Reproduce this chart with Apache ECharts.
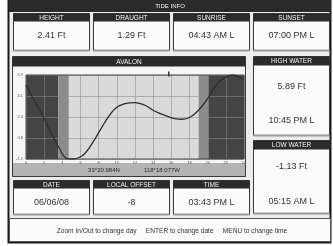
<!DOCTYPE html>
<html lang="en">
<head>
<meta charset="UTF-8">
<title>Tide Info</title>
<script src="https://cdn.jsdelivr.net/npm/echarts@6/dist/echarts.min.js"></script>
<style>
  html, body { margin: 0; padding: 0; background: #fff; }
  #main { width: 333px; height: 246px; }
</style>
</head>
<body>
<div id="main"></div>
<script>
// tide curve, hour of day -> height (ft)
var hours   = [0, 0.7, 1.8, 2.7, 3.7, 4.4, 5.25, 6.1, 6.5, 7.0, 7.6, 8.7, 9.8, 10.9, 12.0, 13.1, 14.2, 15.3, 16.4, 17.2, 18.1, 19.0, 20.0, 20.9, 21.8, 22.75, 23.5, 24];
var heights = [5.03, 4.05, 2.52, 1.13, -0.27, -1.05, -1.13, -0.9, -0.65, -0.15, 0.55, 1.96, 3.07, 3.49, 3.58, 3.36, 2.86, 2.52, 2.24, 2.19, 2.38, 2.94, 3.91, 5.03, 5.64, 5.89, 5.72, 5.5];

// night / twilight / day bands (hours)
var bandStart = [0, 3.56, 4.72, 19.0, 20.08];
var bandEnd   = [3.56, 4.72, 19.0, 20.08, 24];
var bandKind  = [0, 1, 2, 1, 0];   // 0 night, 1 twilight, 2 day

var nowHour = 15.72;
var yMin = -1.13, yMax = 5.89;

var topLabels = ['HEIGHT', 'DRAUGHT', 'SUNRISE', 'SUNSET'];
var topValues = ['2.41 Ft', '1.29 Ft', '04:43 AM L', '07:00 PM L'];
var bottomLabels = ['DATE', 'LOCAL OFFSET', 'TIME'];
var bottomValues = ['06/06/08', '-8', '03:43 PM L'];
var highWater = ['5.89 Ft', '10:45 PM L'];
var lowWater = ['-1.13 Ft', '05:15 AM L'];
var placeName = 'AVALON';
var latText = '33°20.984N';
var lonText = '118°18.077W';
var footerText = 'Zoom In/Out to change day     ENTER to change date     MENU to change time';

var FONT = "'Liberation Sans', Arial, sans-serif";
var bandColors = ['#444444', '#8c8c8c', '#dadada'];

function rect(x, y, w, h, fill, stroke, lw) {
    return { type: 'rect', silent: true, z: 0,
        shape: { x: x, y: y, width: w, height: h },
        style: { fill: fill, stroke: stroke || null, lineWidth: lw || 1 } };
}
function txt(x, y, s, size, color) {
    return { type: 'text', silent: true, z: 0, x: x, y: y,
        style: { text: s, fontSize: size, fontFamily: FONT, fill: color, align: 'center', verticalAlign: 'middle' } };
}
// a labelled cell: dark caption bar + white value box
function cell(x, y, w, h, capH, caption, values, valueYs) {
    var els = [];
    els.push(rect(x + 0.5, y + 0.5, w, h, '#fbfbfb', '#3a3a3a', 1));
    els.push(rect(x + 0.5, y + h - 0.5, w, 2, '#9a9a9a'));
    els.push(rect(x + 0.5, y + 0.5, w, capH, '#2b2b2b'));
    els.push(txt(x + w / 2 + 0.5, y + capH / 2 + 1, caption, 6.5, '#f2f2f2'));
    for (var i = 0; i < values.length; i++) {
        els.push(txt(x + w / 2 + 0.5, valueYs[i], values[i], 9, '#333'));
    }
    return els;
}

var g = [];
// frame
g.push(rect(8.5, 0.5, 322, 242, '#ececec', '#1c1c1c', 2));
g.push(rect(9, 0, 322, 12, '#2a2a2a'));
g.push(txt(170, 6.5, 'TIDE INFO', 6, '#f2f2f2'));

var colX = [13, 93, 173, 253];
for (var i = 0; i < topLabels.length; i++) {
    g = g.concat(cell(colX[i], 13, 76, 37, 8, topLabels[i], [topValues[i]], [36]));
}
for (var j = 0; j < bottomLabels.length; j++) {
    g = g.concat(cell(colX[j], 180, 76, 34, 8, bottomLabels[j], [bottomValues[j]], [203]));
}
g = g.concat(cell(253, 56, 76, 79, 9, 'HIGH WATER', highWater, [87, 121]));
g = g.concat(cell(253, 140, 76, 73, 9, 'LOW WATER', lowWater, [167, 202]));

// chart panel
g.push(rect(12.5, 56.5, 233, 120, '#f6f6f6', '#3a3a3a', 1));
g.push(rect(12.5, 56.5, 233, 10, '#2b2b2b'));
g.push(txt(129, 62, placeName, 6.5, '#f2f2f2'));
g.push(rect(13, 163, 232, 13, '#b3b3b3'));
g.push(txt(104, 170, latText, 6, '#2a2a2a'));
g.push(txt(162, 170, lonText, 6, '#2a2a2a'));

// footer
g.push(rect(9.5, 218.5, 321, 23, '#fbfbfb', '#555', 1));
g.push(txt(172, 231, footerText, 6.6, '#333'));

var tideData = hours.map(function (h, k) { return [h, heights[k]]; });
var bandData = bandStart.map(function (s, k) { return [s, bandEnd[k], bandKind[k]]; });

var myChart = echarts.init(document.getElementById('main'));
myChart.setOption({
    animation: false,
    graphic: { elements: g },
    grid: { left: 26, top: 75, width: 218, height: 84, show: true, borderColor: '#444', borderWidth: 1, z: 3 },
    xAxis: {
        type: 'value', min: 0, max: 24, interval: 2, z: 2,
        axisLine: { show: false },
        axisTick: { show: false },
        axisLabel: { fontSize: 4, color: '#555', margin: 1.5, fontFamily: FONT },
        splitLine: { lineStyle: { color: 'rgba(140,140,140,0.55)', width: 1 } }
    },
    yAxis: {
        type: 'value', min: yMin, max: yMax, interval: (yMax - yMin) / 4, z: 2,
        axisLine: { show: false },
        axisTick: { show: false },
        axisLabel: { fontSize: 4, color: '#555', margin: 3, fontFamily: FONT,
            formatter: function (v) { return v.toFixed(1); } },
        splitLine: { lineStyle: { color: 'rgba(140,140,140,0.55)', width: 1 } }
    },
    series: [{
        type: 'custom', z: 1, silent: true,
        data: bandData,
        encode: { x: [0, 1] },
        renderItem: function (params, api) {
            var p0 = api.coord([api.value(0), yMax]);
            var p1 = api.coord([api.value(1), yMin]);
            return { type: 'rect',
                shape: { x: p0[0], y: p0[1], width: p1[0] - p0[0], height: p1[1] - p0[1] },
                style: { fill: bandColors[api.value(2)] } };
        }
    }, {
        type: 'line', z: 4, silent: true,
        data: tideData,
        smooth: 0.35,
        symbol: 'none',
        lineStyle: { color: '#2e2e2e', width: 1.3 },
        markPoint: {
            symbol: 'rect', symbolSize: [1.5, 5], symbolOffset: [0, -1],
            itemStyle: { color: '#333' },
            label: { show: false },
            data: [{ coord: [nowHour, yMax] }]
        }
    }]
});
</script>
</body>
</html>
